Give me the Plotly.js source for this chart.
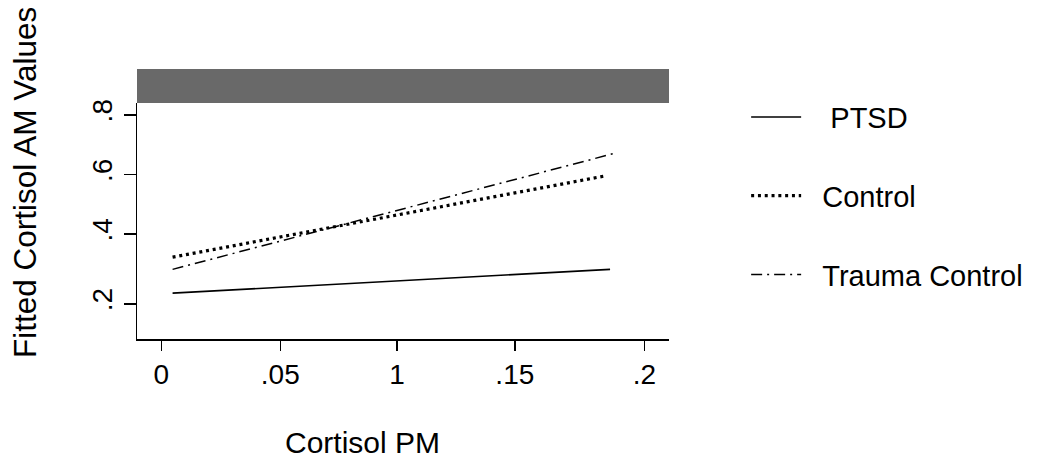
<!DOCTYPE html>
<html>
<head>
<meta charset="utf-8">
<script src="https://cdn.plot.ly/plotly-3.0.1.min.js"></script>
<style>
  html, body { margin: 0; padding: 0; background: #ffffff; }
  #chart { width: 1050px; height: 466px; }
</style>
</head>
<body>
<div id="chart"></div>
<script>
// ---- data ----
const seriesNames = ["PTSD", "Control", "Trauma Control"];
const ptsdX = [0.0048, 0.1904];
const ptsdY = [0.201, 0.281];
const controlX = [0.0048, 0.189];
const controlY = [0.322, 0.596];
const traumaX = [0.0048, 0.1933];
const traumaY = [0.281, 0.673];

// tick positions (as placed in the reference) and their labels
const xTickVals = [0, 0.0505, 0.1, 0.15, 0.205];
const xTickText = ["0", ".05", "1", ".15", ".2"];
const yTickVals = [0.165, 0.4, 0.6, 0.8];
const yTickText = [".2", ".4", ".6", ".8"];

const xTitle = "Cortisol PM";
const yTitle = "Fitted Cortisol AM Values";

const FONT = '"Liberation Sans", Arial, Helvetica, sans-serif';
const NB = "\u00a0";
// legend label indents (spacing between sample line and text in the reference)
const legendPad = [3, 2, 2];

const lineStyles = [
  {color: "#000000", width: 1.6, dash: "solid"},
  {color: "#000000", width: 3.2, dash: "3px,3.8px"},
  {color: "#000000", width: 1.5, dash: "11px,5px,2px,5px"}
];

const xs = [ptsdX, controlX, traumaX];
const ys = [ptsdY, controlY, traumaY];

const traces = seriesNames.map((n, i) => ({
  type: "scatter",
  mode: "lines",
  name: NB.repeat(legendPad[i]) + n,
  x: xs[i],
  y: ys[i],
  line: lineStyles[i],
  legendgroup: "g" + i,
  hoverinfo: "skip"
}));

const layout = {
  width: 1050,
  height: 466,
  margin: {l: 137, r: 381, t: 103, b: 127, pad: 0},
  paper_bgcolor: "#ffffff",
  plot_bgcolor: "#ffffff",
  font: {family: FONT, color: "#000000", size: 26},
  showlegend: true,
  legend: {
    x: 1.145, xanchor: "left",
    y: 1.048, yanchor: "top",
    font: {family: FONT, size: 29, color: "#000000"},
    traceorder: "grouped",
    tracegroupgap: 38,
    itemwidth: 50,
    bgcolor: "rgba(0,0,0,0)"
  },
  xaxis: {
    range: [-0.0103, 0.2154],
    showgrid: false, zeroline: false,
    showline: true, linecolor: "#000000", linewidth: 1.5,
    ticks: "outside", ticklen: 10, tickwidth: 1.5, tickcolor: "#000000",
    tickmode: "array", tickvals: xTickVals, ticktext: xTickText,
    tickfont: {family: FONT, size: 28, color: "#000000"},
    fixedrange: true
  },
  yaxis: {
    range: [0.047, 0.84],
    showgrid: false, zeroline: false,
    showline: true, linecolor: "#000000", linewidth: 1.5,
    ticks: "outside", ticklen: 12, tickwidth: 1.5, tickcolor: "#000000",
    tickmode: "array", tickvals: yTickVals, ticktext: yTickText,
    tickangle: -90,
    tickfont: {family: FONT, size: 28, color: "#000000"},
    fixedrange: true
  },
  shapes: [
    {type: "rect", xref: "paper", yref: "paper",
     x0: 0, x1: 1, y0: 1, y1: 1.144,
     fillcolor: "#696969", line: {width: 0}, layer: "above"}
  ],
  annotations: [
    {text: xTitle, xref: "paper", yref: "paper",
     x: (362 - 137) / 532, y: -(442 - 339) / 236,
     xanchor: "center", yanchor: "middle", showarrow: false,
     font: {family: FONT, size: 30, color: "#000000"}},
    {text: yTitle, xref: "paper", yref: "paper",
     x: (25 - 137) / 532, y: (339 - 183) / 236,
     xanchor: "center", yanchor: "middle", showarrow: false, textangle: -90,
     font: {family: FONT, size: 31.5, color: "#000000"}}
  ]
};

Plotly.newPlot("chart", traces, layout, {displayModeBar: false, staticPlot: true});
</script>
</body>
</html>
